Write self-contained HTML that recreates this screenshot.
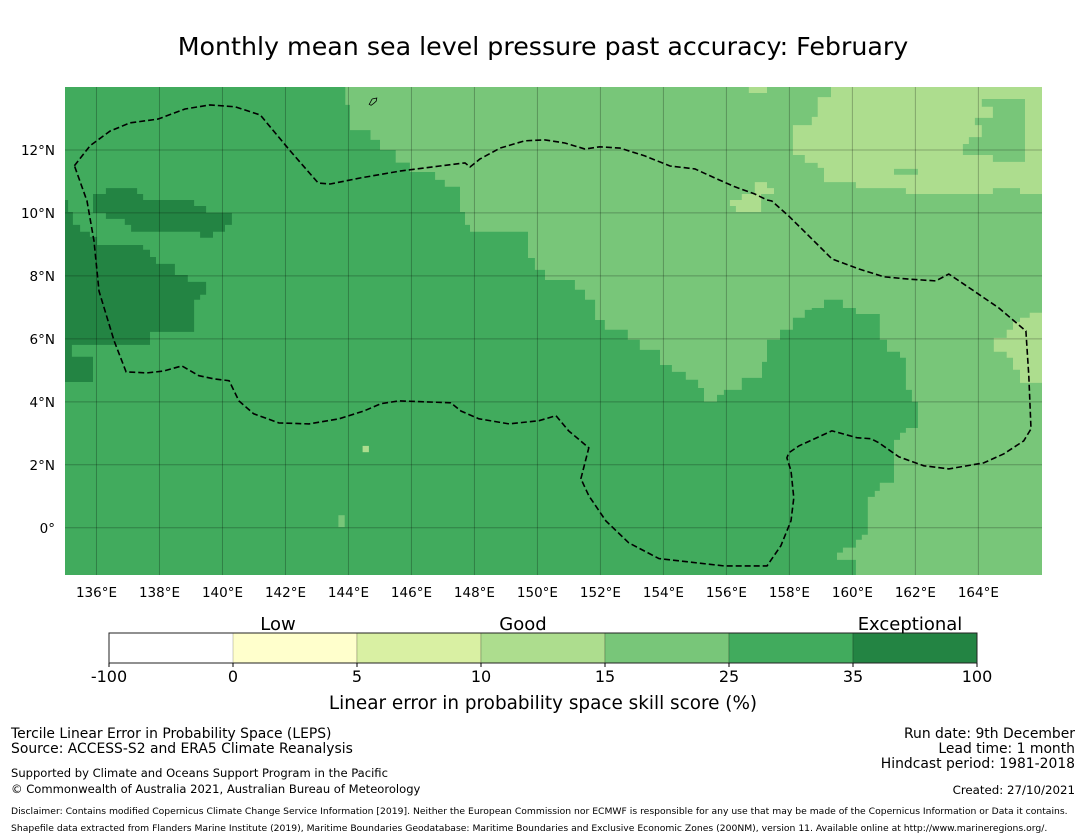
<!DOCTYPE html>
<html><head><meta charset="utf-8"><style>
html,body{margin:0;padding:0;background:#fff;}
svg{display:block;font-family:"DejaVu Sans","Liberation Sans",sans-serif;}
</style></head><body>
<svg id="fig" width="1085" height="839" viewBox="0 0 1085 839" xmlns="http://www.w3.org/2000/svg">
<text x="543" y="55" font-size="25.3" text-anchor="middle" fill="#000">Monthly mean sea level pressure past accuracy: February</text>
<defs><clipPath id="mapclip"><rect x="65" y="87" width="977" height="488"/></clipPath></defs>
<g id="map" clip-path="url(#mapclip)"></g>
<g id="axes"></g>
<g id="cbar"></g>
<text x="278" y="630" font-size="18" text-anchor="middle">Low</text>
<text x="523" y="630" font-size="18" text-anchor="middle">Good</text>
<text x="910" y="630" font-size="18" text-anchor="middle">Exceptional</text>
<text x="543" y="709" font-size="18.4" text-anchor="middle">Linear error in probability space skill score (%)</text>
<g font-size="13.9">
<text x="11" y="738">Tercile Linear Error in Probability Space (LEPS)</text>
<text x="11" y="753">Source: ACCESS-S2 and ERA5 Climate Reanalysis</text>
<text x="11" y="777" font-size="11.55">Supported by Climate and Oceans Support Program in the Pacific</text>
<text x="11" y="793" font-size="11.55">© Commonwealth of Australia 2021, Australian Bureau of Meteorology</text>
</g>
<g font-size="13.9" text-anchor="end">
<text x="1075" y="738">Run date: 9th December</text>
<text x="1075" y="753">Lead time: 1 month</text>
<text x="1075" y="768">Hindcast period: 1981-2018</text>
<text x="1075" y="794" font-size="11.8">Created: 27/10/2021</text>
</g>
<g font-size="9.22">
<text x="11" y="814">Disclaimer: Contains modified Copernicus Climate Change Service Information [2019]. Neither the European Commission nor ECMWF is responsible for any use that may be made of the Copernicus Information or Data it contains.</text>
<text x="11" y="831">Shapefile data extracted from Flanders Marine Institute (2019), Maritime Boundaries Geodatabase: Maritime Boundaries and Exclusive Economic Zones (200NM), version 11. Available online at http://www.marineregions.org/.</text>
</g>
</svg>
<script>
// ---- data ----
const lonRange = [135, 166.02];
const latRange = [-1.5, 14];
const xTicks = [136,138,140,142,144,146,148,150,152,154,156,158,160,162,164];
const yTicks = [0,2,4,6,8,10,12];
const cbTicks = ["-100","0","5","10","15","25","35","100"];
const cbColors = ["#ffffff","#ffffcc","#d9f0a3","#addd8e","#78c679","#41ab5d","#238443"];
const baseCategory = 5;
const regionMid = [[143.9,14.1],[143.9,13.43],[144.05,13.43],[144.05,12.63],[144.7,12.63],[144.7,12.32],[145,12.32],[145,12],[145.5,12],[145.5,11.6],[145.95,11.6],[145.95,11.3],[146.75,11.3],[146.75,11.05],[147.06,11.05],[147.06,10.83],[147.54,10.83],[147.54,10.03],[147.7,10.03],[147.7,9.62],[147.86,9.62],[147.86,9.4],[149.7,9.4],[149.7,8.57],[149.92,8.57],[149.92,8.19],[150.24,8.19],[150.24,7.87],[151.19,7.87],[151.19,7.56],[151.51,7.56],[151.51,7.24],[151.83,7.24],[151.83,6.6],[152.14,6.6],[152.14,6.29],[152.87,6.29],[152.87,5.97],[153.25,5.97],[153.25,5.65],[153.89,5.65],[153.89,5.17],[154.27,5.17],[154.27,4.95],[154.71,4.95],[154.71,4.7],[155.1,4.7],[155.1,4.44],[155.29,4.44],[155.29,4.0],[155.7,4.0],[155.7,4.22],[155.92,4.22],[155.92,4.38],[156.49,4.38],[156.49,4.76],[157.13,4.76],[157.13,5.27],[157.29,5.27],[157.29,5.97],[157.7,5.97],[157.7,6.29],[158.11,6.29],[158.11,6.67],[158.49,6.67],[158.49,6.92],[158.71,6.92],[158.71,6.98],[159.1,6.98],[159.1,7.24],[159.7,7.24],[159.7,6.98],[160.11,6.98],[160.11,6.79],[160.87,6.79],[160.87,5.97],[161.1,5.97],[161.1,5.59],[161.51,5.59],[161.51,5.4],[161.7,5.4],[161.7,4.38],[161.89,4.38],[161.89,4.0],[162.08,4.0],[162.08,3.17],[161.7,3.17],[161.7,3.02],[161.51,3.02],[161.51,2.79],[161.32,2.79],[161.32,1.43],[160.87,1.43],[160.87,1.17],[160.71,1.17],[160.71,0.98],[160.49,0.98],[160.49,-0.22],[160.3,-0.22],[160.3,-0.38],[160.11,-0.38],[160.11,-0.63],[159.7,-0.63],[159.7,-0.79],[159.51,-0.79],[159.51,-1.02],[160.11,-1.02],[160.11,-1.6],[166.2,-1.6],[166.2,14.1]];
const regionNE = [[159.32,14.1],[159.32,13.68],[158.9,13.68],[158.9,13.05],[158.71,13.05],[158.71,12.79],[158.11,12.79],[158.11,11.84],[158.49,11.84],[158.49,11.59],[158.9,11.59],[158.9,11.43],[159.1,11.43],[159.1,10.98],[160.11,10.98],[160.11,10.79],[161.7,10.79],[161.7,10.6],[164.46,10.6],[164.46,10.79],[165.32,10.79],[165.32,10.6],[166.2,10.6],[166.2,14.1]];
const regionTop = [[156.71,14.1],[157.29,14.1],[157.29,13.81],[156.71,13.81]];
const regionMid2 = [[156.9,10.98],[157.29,10.98],[157.29,10.79],[157.51,10.79],[157.51,10.6],[157.1,10.6],[157.1,10.03],[156.3,10.03],[156.3,10.22],[156.11,10.22],[156.11,10.41],[156.49,10.41],[156.49,10.6],[156.9,10.6]];
const regionEast = [[165.63,6.83],[166.2,6.83],[166.2,4.6],[165.32,4.6],[165.32,5.02],[165.1,5.02],[165.1,5.4],[164.9,5.4],[164.9,5.59],[164.49,5.59],[164.49,6.03],[164.9,6.03],[164.9,6.29],[165.1,6.29],[165.1,6.54],[165.32,6.54],[165.32,6.67],[165.63,6.67]];
const regionSmall = [[143.68,0.4],[143.88,0.4],[143.88,0.02],[143.68,0.02]];
const regionNEpatch = [[164.11,13.62],[165.48,13.62],[165.48,11.62],[164.46,11.62],[164.46,11.84],[163.51,11.84],[163.51,12.19],[163.7,12.19],[163.7,12.41],[164.11,12.41],[164.11,12.79],[163.89,12.79],[163.89,13.02],[164.46,13.02],[164.46,13.37],[164.11,13.37]];
const regionBar = [[161.32,11.4],[162.08,11.4],[162.08,11.21],[161.32,11.21]];
const regionPatch1 = [[161.8,2.75],[162.1,2.75],[162.1,2.5],[161.8,2.5]];
const regionPatch2 = [[144.45,2.6],[144.65,2.6],[144.65,2.4],[144.45,2.4]];
const regionD1 = [[136.3,10.79],[137.29,10.79],[137.29,10.6],[137.48,10.6],[137.48,10.41],[139.1,10.41],[139.1,10.22],[139.48,10.22],[139.48,10.0],[140.3,10.0],[140.3,9.62],[140.08,9.62],[140.08,9.4],[139.7,9.4],[139.7,9.21],[139.29,9.21],[139.29,9.4],[137.1,9.4],[137.1,9.62],[136.9,9.62],[136.9,9.81],[136.3,9.81],[136.3,10.0],[135.89,10.0],[135.89,10.6],[136.3,10.6]];
const regionD2 = [[134.9,10.41],[135.1,10.41],[135.1,10.03],[135.25,10.03],[135.25,9.62],[135.48,9.62],[135.48,9.4],[135.79,9.4],[135.79,9.24],[136.02,9.24],[136.02,8.98],[137.48,8.98],[137.48,8.83],[137.7,8.83],[137.7,8.6],[137.89,8.6],[137.89,8.38],[138.49,8.38],[138.49,8.03],[138.9,8.03],[138.9,7.81],[139.48,7.81],[139.48,7.4],[139.29,7.4],[139.29,7.24],[139.1,7.24],[139.1,6.22],[137.7,6.22],[137.7,5.81],[135.22,5.81],[135.22,5.43],[135.89,5.43],[135.89,4.63],[134.9,4.63]];
const regions = [regionMid, regionNE, regionTop, regionMid2, regionEast, regionSmall, regionNEpatch, regionBar, regionPatch1, regionPatch2, regionD1, regionD2];
const regionCatList = [4,3,3,3,3,4,4,4,4,3,6,6];
const eezBoundary = [[135.3,11.5],[135.8,12.14],[136.43,12.6],[137.06,12.86],[137.95,12.98],[138.81,13.3],[139.6,13.43],[140.4,13.37],[141.2,13.11],[142.15,11.97],[143.04,10.95],[143.42,10.92],[144.37,11.11],[145.63,11.33],[146.9,11.49],[147.7,11.59],[147.86,11.46],[148.17,11.71],[148.81,12.06],[149.6,12.29],[150.24,12.32],[150.87,12.22],[151.51,12.03],[151.98,12.1],[152.62,12.06],[153.41,11.81],[154.21,11.49],[155.0,11.4],[155.63,11.11],[156.27,10.83],[156.9,10.6],[157.29,10.41],[157.44,10.38],[157.98,9.9],[158.78,9.11],[159.35,8.54],[160.21,8.22],[161.0,7.97],[161.79,7.9],[162.65,7.84],[163.06,8.06],[163.86,7.52],[164.65,6.98],[165.51,6.25],[165.6,4.83],[165.67,3.14],[165.44,2.76],[164.81,2.35],[164.17,2.06],[163.06,1.87],[162.27,1.97],[161.48,2.25],[160.84,2.7],[160.59,2.83],[160.14,2.86],[159.35,3.08],[158.3,2.6],[157.98,2.38],[157.92,2.22],[158.05,1.81],[158.14,0.95],[158.05,0.22],[157.73,-0.57],[157.29,-1.21],[155.92,-1.21],[153.86,-0.98],[152.9,-0.48],[152.17,0.22],[151.63,1.02],[151.38,1.56],[151.63,2.54],[150.99,3.08],[150.59,3.56],[150.05,3.4],[149.1,3.3],[148.14,3.46],[147.57,3.71],[147.25,3.97],[146.4,4.0],[145.6,4.03],[145.03,3.94],[144.49,3.71],[143.7,3.46],[142.75,3.3],[141.79,3.33],[140.99,3.62],[140.52,4.03],[140.21,4.67],[139.73,4.73],[139.25,4.83],[138.71,5.14],[138.14,4.98],[137.6,4.92],[136.94,4.95],[136.56,5.94],[136.08,7.52],[135.92,9.11],[135.7,10.38],[135.3,11.5]];
const guamOutline = [[144.75,13.62],[144.9,13.65],[144.88,13.55],[144.8,13.48],[144.72,13.42],[144.66,13.45],[144.7,13.52],[144.75,13.62]];

// ---- axis functions ----
const MX0=65, MX1=1042, MY0=87, MY1=575;
const X = lon => MX0 + (lon - lonRange[0]) / (lonRange[1]-lonRange[0]) * (MX1-MX0);
const Y = lat => MY1 - (lat - latRange[0]) / (latRange[1]-latRange[0]) * (MY1-MY0);
const NS="http://www.w3.org/2000/svg";
const mk=(tag,attrs,parent)=>{const e=document.createElementNS(NS,tag);for(const k in attrs)e.setAttribute(k,attrs[k]);parent.appendChild(e);return e;};
const map=document.getElementById('map');
const base=mk('rect',{x:MX0,y:MY0,width:MX1-MX0,height:MY1-MY0,fill:cbColors[baseCategory]},map);


regions.forEach((poly,i)=>{
  const p=mk('polygon',{points:poly.map(q=>X(q[0]).toFixed(1)+','+Y(q[1]).toFixed(1)).join(' '),fill:cbColors[regionCatList[i]]},map);
  
  
});
xTicks.forEach(t=>{const l=mk('line',{x1:X(t),x2:X(t),y1:MY0,y2:MY1,stroke:'rgba(0,0,0,0.25)','stroke-width':1},map);
  
  });
yTicks.forEach(t=>{const l=mk('line',{x1:MX0,x2:MX1,y1:Y(t),y2:Y(t),stroke:'rgba(0,0,0,0.25)','stroke-width':1},map);
  
  });
const guam=mk('path',{d:'M'+guamOutline.map(q=>X(q[0]).toFixed(1)+' '+Y(q[1]).toFixed(1)).join(' L'),fill:'none',stroke:'#000','stroke-width':0.8},map);


const eez=mk('path',{d:'M'+eezBoundary.map(q=>X(q[0]).toFixed(1)+' '+Y(q[1]).toFixed(1)).join(' L'),fill:'none',stroke:'#000','stroke-width':1.6,'stroke-dasharray':'6,3'},map);


const axes=document.getElementById('axes');
xTicks.forEach(t=>{const e=mk('text',{x:X(t),y:597,'font-size':13.5,'text-anchor':'middle'},axes);e.textContent=t+'°E';
  
  });
yTicks.forEach(t=>{const e=mk('text',{x:55,y:Y(t)+5,'font-size':13.5,'text-anchor':'end'},axes);e.textContent=t===0?'0°':t+'°N';
  
  });
const cb=document.getElementById('cbar');
const CB0=109, CBW=124, CBY=633, CBH=30;
cbColors.forEach((c,i)=>{const r=mk('rect',{x:CB0+i*CBW,y:CBY,width:CBW,height:CBH,fill:c,stroke:i?'rgba(0,0,0,0.2)':'none','stroke-width':1},cb);
  
  });
const fr=mk('rect',{x:CB0,y:CBY,width:CBW*cbColors.length,height:CBH,fill:'none',stroke:'#222','stroke-width':1},cb);


cbTicks.forEach((t,i)=>{const x=CB0+i*CBW;
  const tk=mk('line',{x1:x,x2:x,y1:CBY+CBH,y2:CBY+CBH+4,stroke:'#000'},cb);
  
  
  const e=mk('text',{x:x,y:682,'font-size':16,'text-anchor':'middle'},cb);e.textContent=t;
  
  });
</script>
</body></html>
